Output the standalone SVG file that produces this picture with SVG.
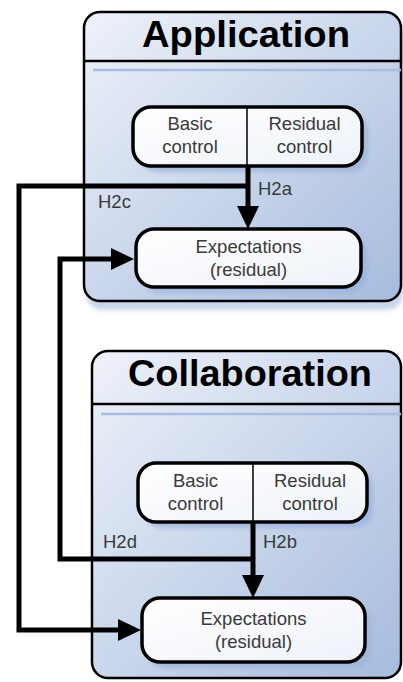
<svg xmlns="http://www.w3.org/2000/svg" width="403" height="682" viewBox="0 0 403 682">
  <defs>
    <linearGradient id="panelFill" x1="0" y1="0" x2="1" y2="1">
      <stop offset="0" stop-color="#eef2fa"/>
      <stop offset="1" stop-color="#a6bbdd"/>
    </linearGradient>
    <linearGradient id="nodeFill" x1="0" y1="0" x2="1" y2="1">
      <stop offset="0" stop-color="#ffffff"/>
      <stop offset="1" stop-color="#eef2f9"/>
    </linearGradient>
    <filter id="soft" x="-10%" y="-10%" width="120%" height="120%">
      <feGaussianBlur stdDeviation="2"/>
    </filter>
    <style>
      .panel { fill: url(#panelFill); stroke: #000; stroke-width: 2.5; }
      .panelShadow { fill: #c9d6ec; filter: url(#soft); }
      .rule { stroke: #000; stroke-width: 2.5; }
      .glint { stroke: #a9bde0; stroke-width: 2.5; }
      .node { fill: url(#nodeFill); stroke: #000; stroke-width: 3.5; }
      .nodeShadow { fill: #9bb2da; opacity: 0.75; filter: url(#soft); }
      .split { stroke: #000; stroke-width: 1.5; }
      .title { font-family: "Liberation Sans", Arial, sans-serif; font-weight: bold; font-size: 36px; fill: #000; text-anchor: middle; }
      .label { font-family: "Liberation Sans", Arial, sans-serif; font-size: 18.5px; fill: #3a3a3a; text-anchor: middle; }
      .tag { font-family: "Liberation Sans", Arial, sans-serif; font-size: 18.5px; fill: #3a3a3a; }
      .wire { fill: none; stroke: #000; stroke-width: 5; stroke-linejoin: miter; stroke-linecap: butt; }
      .head { fill: #000; }
    </style>
  </defs>

  <!-- Application panel -->
  <g id="application">
    <rect class="panelShadow" x="86" y="18" width="317" height="292" rx="16"/>
    <rect class="panel" x="84" y="12" width="317" height="289" rx="16"/>
    <line class="rule" x1="84" y1="61" x2="401" y2="61"/>
    <line class="glint" x1="93" y1="70" x2="401" y2="70"/>
    <text class="title" x="246" y="47" textLength="208" lengthAdjust="spacingAndGlyphs">Application</text>
  </g>

  <!-- Collaboration panel -->
  <g id="collaboration">
    <rect class="panel" x="92" y="351" width="309" height="327" rx="16"/>
    <line class="rule" x1="92" y1="404" x2="401" y2="404"/>
    <line class="glint" x1="101" y1="414" x2="401" y2="414"/>
    <text class="title" x="250" y="386" textLength="244" lengthAdjust="spacingAndGlyphs">Collaboration</text>
  </g>

  <!-- Application: control node -->
  <g id="app-control">
    <rect class="nodeShadow" x="139" y="113" width="229" height="59" rx="18"/>
    <rect class="node" x="133" y="107" width="229" height="59" rx="18"/>
    <line class="split" x1="247" y1="107" x2="247" y2="166"/>
    <text class="label" x="190" y="130">Basic</text>
    <text class="label" x="190" y="153">control</text>
    <text class="label" x="304.5" y="130">Residual</text>
    <text class="label" x="304.5" y="153">control</text>
  </g>

  <!-- Application: expectations node -->
  <g id="app-expectations">
    <rect class="nodeShadow" x="142" y="235" width="225" height="58" rx="18"/>
    <rect class="node" x="136" y="229" width="225" height="58" rx="18"/>
    <text class="label" x="248.5" y="253">Expectations</text>
    <text class="label" x="248.5" y="276">(residual)</text>
  </g>

  <!-- Collaboration: control node -->
  <g id="collab-control">
    <rect class="nodeShadow" x="144" y="469" width="229" height="59" rx="18"/>
    <rect class="node" x="138" y="463" width="229" height="59" rx="18"/>
    <line class="split" x1="253" y1="463" x2="253" y2="522"/>
    <text class="label" x="195.5" y="487">Basic</text>
    <text class="label" x="195.5" y="510">control</text>
    <text class="label" x="310" y="487">Residual</text>
    <text class="label" x="310" y="510">control</text>
  </g>

  <!-- Collaboration: expectations node -->
  <g id="collab-expectations">
    <rect class="nodeShadow" x="148" y="604" width="223" height="64" rx="18"/>
    <rect class="node" x="142" y="598" width="223" height="64" rx="18"/>
    <text class="label" x="253.5" y="625">Expectations</text>
    <text class="label" x="253.5" y="648">(residual)</text>
  </g>

  <!-- Hypothesis links -->
  <g id="connectors">
    <!-- H2a -->
    <path class="wire" d="M248 166 V207"/>
    <polygon class="head" points="237,206 259,206 248,229"/>
    <!-- H2c -->
    <path class="wire" d="M248 186 H19 V630 H119"/>
    <polygon class="head" points="118,619 118,641 141,630"/>
    <!-- H2d -->
    <path class="wire" d="M253 559 H60 V259 H112"/>
    <polygon class="head" points="111,248 111,270 134,259"/>
    <!-- H2b -->
    <path class="wire" d="M253 522 V576"/>
    <polygon class="head" points="242,575 264,575 253,598"/>

    <text class="tag" x="258" y="195">H2a</text>
    <text class="tag" x="98" y="208">H2c</text>
    <text class="tag" x="103" y="548">H2d</text>
    <text class="tag" x="263" y="548">H2b</text>
  </g>
</svg>
